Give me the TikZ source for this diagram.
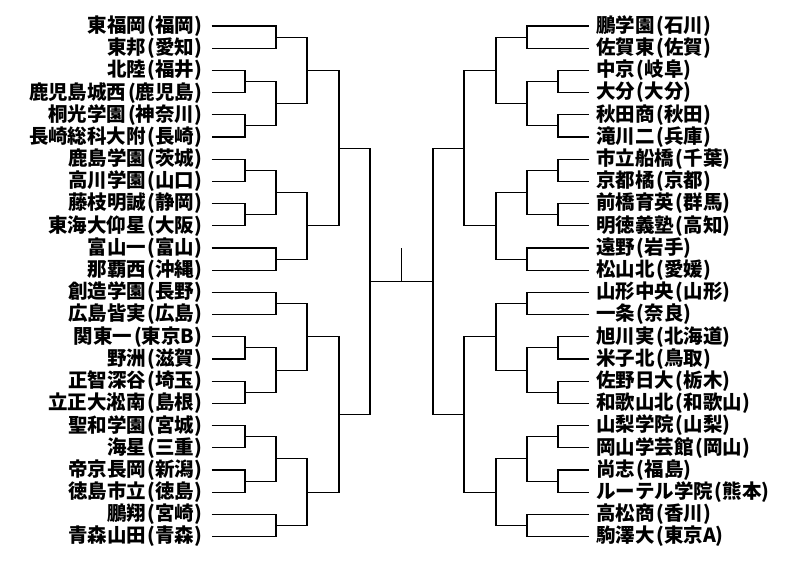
\documentclass[tikz,border=0pt]{standalone}
\usepackage{fontspec}
\usepackage{tikz}
\usetikzlibrary{calc}
\newfontfamily\jpfont{Noto Sans CJK JP}
\tikzset{
    team/.style={font=\jpfont\bfseries\fontsize{19.5}{19.5}\selectfont, inner xsep=7.5pt, inner ysep=0pt},
    bracket/.style={line width=1.1pt}
}
% one match: two entries joined at column x, winner coordinate #4
\newcommand{\match}[4]{%
    \path ($(#1)!0.5!(#2)$) coordinate (tmp#4);
    \coordinate (#4) at (#3,0 |- tmp#4);
    \draw[bracket] (#1) -| (#4) |- (#2);
}
\newcommand{\pa}[1]{\kern1.6pt(#1)\kern1.6pt}

\begin{document}
\begin{tikzpicture}[x=1pt,y=-1pt]
    \useasboundingbox (0,0) rectangle (804,561);
    % left half
    \foreach \name [count=\i from 0] in {東福岡\pa{福岡},東邦\pa{愛知},北陸\pa{福井},鹿児島城西\pa{鹿児島},
        桐光学園\pa{神奈川},長崎総科大附\pa{長崎},鹿島学園\pa{茨城},高川学園\pa{山口},
        藤枝明誠\pa{静岡},東海大仰星\pa{大阪},富山一\pa{富山},那覇西\pa{沖縄},
        創造学園\pa{長野},広島皆実\pa{広島},関東一\pa{東京B},野洲\pa{滋賀},
        正智深谷\pa{埼玉},立正大淞南\pa{島根},聖和学園\pa{宮城},海星\pa{三重},
        帝京長岡\pa{新潟},徳島市立\pa{徳島},鵬翔\pa{宮崎},青森山田\pa{青森}}
        \node[team, anchor=east] (L\i) at (211.5,26+22.2*\i) {\name};
    % right half
    \foreach \name [count=\i from 0] in {鵬学園\pa{石川},佐賀東\pa{佐賀},中京\pa{岐阜},大分\pa{大分},
        秋田商\pa{秋田},滝川二\pa{兵庫},市立船橋\pa{千葉},京都橘\pa{京都},
        前橋育英\pa{群馬},明徳義塾\pa{高知},遠野\pa{岩手},松山北\pa{愛媛},
        山形中央\pa{山形},一条\pa{奈良},旭川実\pa{北海道},米子北\pa{鳥取},
        佐野日大\pa{栃木},和歌山北\pa{和歌山},山梨学院\pa{山梨},岡山学芸館\pa{岡山},
        尚志\pa{福島},ルーテル学院\pa{熊本},高松商\pa{香川},駒澤大\pa{東京A}}
        \node[team, anchor=west] (R\i) at (588.5,26+22.2*\i) {\name};

    \foreach \s/\a/\xa/\xb/\xc/\xd/\xe in {L/east/245/276/307/339/370, R/west/558/527/496/464/433}{
        % block A
        \match{\s0.\a}{\s1.\a}{\xb}{\s A1}
        \match{\s2.\a}{\s3.\a}{\xa}{\s A2}
        \match{\s4.\a}{\s5.\a}{\xa}{\s A3}
        \match{\s A2}{\s A3}{\xb}{\s A4}
        \match{\s A1}{\s A4}{\xc}{\s A}
        % block B
        \match{\s6.\a}{\s7.\a}{\xa}{\s B1}
        \match{\s8.\a}{\s9.\a}{\xa}{\s B2}
        \match{\s B1}{\s B2}{\xb}{\s B3}
        \match{\s10.\a}{\s11.\a}{\xb}{\s B4}
        \match{\s B3}{\s B4}{\xc}{\s B}
        % block C
        \match{\s12.\a}{\s13.\a}{\xb}{\s C1}
        \match{\s14.\a}{\s15.\a}{\xa}{\s C2}
        \match{\s16.\a}{\s17.\a}{\xa}{\s C3}
        \match{\s C2}{\s C3}{\xb}{\s C4}
        \match{\s C1}{\s C4}{\xc}{\s C}
        % block D
        \match{\s18.\a}{\s19.\a}{\xa}{\s D1}
        \match{\s20.\a}{\s21.\a}{\xa}{\s D2}
        \match{\s D1}{\s D2}{\xb}{\s D3}
        \match{\s22.\a}{\s23.\a}{\xb}{\s D4}
        \match{\s D3}{\s D4}{\xc}{\s D}
        % semifinals
        \match{\s A}{\s B}{\xd}{\s AB}
        \match{\s C}{\s D}{\xd}{\s CD}
        \match{\s AB}{\s CD}{\xe}{\s fin}
    }
    % final
    \draw[bracket] (Lfin) -- (Rfin);
    \coordinate (champ) at ($(Lfin)!0.5!(Rfin)+(0,-33)$);
    \draw[bracket] ($(Lfin)!0.5!(Rfin)$) coordinate (final) -- (champ);
\end{tikzpicture}
\end{document}
